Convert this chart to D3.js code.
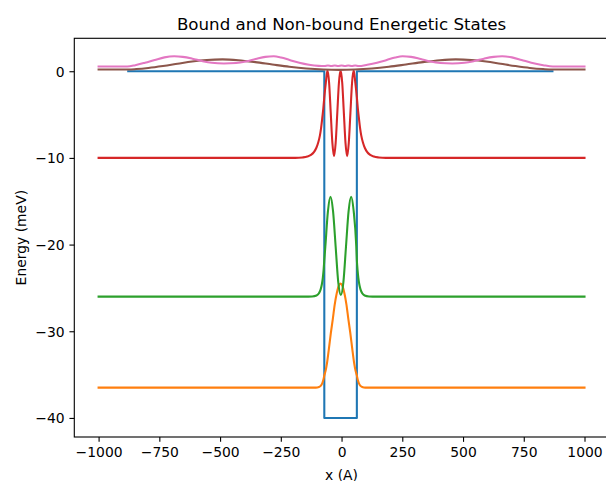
<!DOCTYPE html>
<html><head><meta charset="utf-8">
<script src="https://cdn.jsdelivr.net/npm/d3@7"></script>
<style>
body{margin:0;background:#fff}
svg{display:block}
text{font-family:"DejaVu Sans",sans-serif;fill:#000}
</style>
</head><body>
<svg id="c" width="606" height="481"></svg>
<script>
// ---- text ----
const chartTitle = "Bound and Non-bound Energetic States";
const xLabel = "x (A)";
const yLabel = "Energy (meV)";
const xTicks = [-1000, -750, -500, -250, 0, 250, 500, 750, 1000];
const yTicks = [0, -10, -20, -30, -40];

// ---- data (x in A, energy in meV) ----
const potentialX = [-878, -71, -71, 63, 63, 868];
const potentialE = [0, 0, -40, -40, 0, 0];

const orangeX = [-1000,-106,-93,-86,-81,-77,-74,-71,-66,-60,-52,-44,-36,-28,-20,-12,-4,4,12,20,28,36,44,52,58,63,66,69,73,78,85,98,1000];
const orangeE = [-36.5,-36.5,-36.43,-36.3,-36.1,-35.8,-35.5,-35.1,-34.6,-33.7,-32.0,-30.2,-28.6,-26.9,-25.65,-24.8,-24.5,-24.8,-25.65,-26.9,-28.6,-30.2,-32.0,-33.7,-34.6,-35.1,-35.5,-35.8,-36.1,-36.3,-36.43,-36.5,-36.5];

const greenX = [-1000,-151,-121,-103,-93,-86,-81,-77,-74,-71,-66.75,-56.1,-45.5,-34.9,-24.25,-13.6,-3,7.6,18.25,28.9,39.5,50.1,60.75,63,66,69,73,78,85,95,113,143,1000];
const greenE = [-26,-26,-25.98,-25.87,-25.61,-25.17,-24.58,-23.8,-22.97,-21.8,-20.25,-16.18,-14.5,-16.18,-20.25,-24.32,-25.8,-24.32,-20.25,-16.18,-14.5,-16.18,-20.25,-21.8,-22.97,-23.8,-24.58,-25.17,-25.61,-25.87,-25.98,-26,-26];

const redX = [-1000,-191,-161,-141,-126,-113,-104,-96,-89,-84,-79,-75,-71,-64.75,-58,-51.25,-44.5,-37.75,-31,-24.25,-17.5,-10.75,-4,2.75,9.5,16.25,23,29.75,36.5,43.25,50,56.75,63,67,71,76,81,88,96,105,118,133,153,183,1000];
const redE = [-10,-10,-9.95,-9.85,-9.66,-9.31,-8.86,-8.23,-7.4,-6.5,-5.3,-4.27,-3.0,-1.33,0.1,-1.33,-4.8,-8.27,-9.8,-8.27,-4.8,-1.33,0.1,-1.33,-4.8,-8.27,-9.8,-8.27,-4.8,-1.33,0.1,-1.33,-3.0,-4.27,-5.3,-6.5,-7.4,-8.23,-8.86,-9.31,-9.66,-9.85,-9.95,-10,-10];

const brownX = [-1000,-878,-845,-795,-735,-675,-615,-555,-490,-425,-355,-285,-215,-145,-75,-10,55,125,195,265,335,405,470,535,595,655,715,775,830,868,1000];
const brownE = [0.2,0.2,0.25,0.38,0.6,0.86,1.12,1.3,1.37,1.27,1.05,0.78,0.52,0.32,0.2,0.16,0.2,0.32,0.52,0.78,1.05,1.27,1.37,1.3,1.12,0.86,0.6,0.38,0.25,0.2,0.2];

const pinkX = [-1000,-882,-849,-809,-769,-729,-689,-654,-614,-574,-534,-484,-434,-394,-354,-314,-279,-249,-214,-174,-134,-94,-70,-56,-42,-28,-14,0,14,28,42,56,70,106,146,186,221,251,286,326,366,406,456,506,546,586,626,661,701,741,781,830,870,1000];
const pinkE = [0.55,0.55,0.7,0.98,1.3,1.6,1.72,1.66,1.45,1.17,0.97,0.9,0.95,1.12,1.4,1.66,1.72,1.58,1.3,0.98,0.75,0.62,0.6,0.67,0.6,0.67,0.6,0.67,0.6,0.67,0.6,0.67,0.6,0.75,0.98,1.3,1.58,1.72,1.66,1.4,1.12,0.95,0.9,0.97,1.17,1.45,1.66,1.72,1.6,1.3,0.98,0.7,0.55,0.55];

// ---- layout ----
const mLeft = 74.3, mRight = 608.8, mTop = 38.3, mBottom = 437;
const fs = 13.9;
const lineW = 2.08, spineW = 1.11;

const svg = d3.select("#c");
const x = d3.scaleLinear().domain([-1100, 1100]).range([mLeft, mRight]);
const y = d3.scaleLinear().domain([-42.2, 3.8]).range([mBottom, mTop]);

svg.append("defs").append("clipPath").attr("id", "clip")
  .append("rect").attr("x", mLeft).attr("y", mTop).attr("width", mRight - mLeft).attr("height", mBottom - mTop);

const plot = svg.append("g").attr("clip-path", "url(#clip)");

function zip(xs, es) { return xs.map((v, i) => [v, es[i]]); }

const series = [
  {xs: potentialX, es: potentialE, color: "#1f77b4", curve: d3.curveLinear},
  {xs: orangeX, es: orangeE, color: "#ff7f0e", curve: d3.curveMonotoneX},
  {xs: greenX, es: greenE, color: "#2ca02c", curve: d3.curveMonotoneX},
  {xs: redX, es: redE, color: "#d62728", curve: d3.curveMonotoneX},
  {xs: brownX, es: brownE, color: "#8c564b", curve: d3.curveMonotoneX},
  {xs: pinkX, es: pinkE, color: "#e377c2", curve: d3.curveMonotoneX}
];

series.forEach(s => {
  const line = d3.line().x(d => x(d[0])).y(d => y(d[1])).curve(s.curve);
  plot.append("path")
    .attr("d", line(zip(s.xs, s.es)))
    .attr("fill", "none")
    .attr("stroke", s.color)
    .attr("stroke-width", lineW)
    .attr("stroke-linejoin", "round")
    .attr("stroke-linecap", "square");
});

// ---- axes ----
const tickLen = 4.86, tickPad = 4.86;
const fmt = d3.format("d");

const gx = svg.append("g").attr("transform", `translate(0,${mBottom})`)
  .call(d3.axisBottom(x).tickValues(xTicks).tickFormat(fmt).tickSize(tickLen).tickPadding(tickPad).tickSizeOuter(0));
const gy = svg.append("g").attr("transform", `translate(${mLeft},0)`)
  .call(d3.axisLeft(y).tickValues(yTicks).tickFormat(fmt).tickSize(tickLen).tickPadding(tickPad).tickSizeOuter(0));

[gx, gy].forEach(g => {
  g.select(".domain").remove();
  g.selectAll(".tick line").attr("stroke", "#000").attr("stroke-width", spineW);
  g.selectAll(".tick text").attr("font-family", "DejaVu Sans").attr("font-size", fs).attr("fill", "#000");
});
gy.selectAll(".tick text").attr("dy", "0.36em");

// spines
svg.append("rect")
  .attr("x", mLeft).attr("y", mTop)
  .attr("width", mRight - mLeft).attr("height", mBottom - mTop)
  .attr("fill", "none").attr("stroke", "#000").attr("stroke-width", spineW);

// title & labels
svg.append("text").attr("x", (mLeft + mRight) / 2).attr("y", 29.5)
  .attr("text-anchor", "middle").attr("font-size", 16.67).text(chartTitle);
svg.append("text").attr("x", (mLeft + mRight) / 2).attr("y", 479.5)
  .attr("text-anchor", "middle").attr("font-size", fs).text(xLabel);
svg.append("text").attr("transform", `translate(25.5,${(mTop + mBottom) / 2}) rotate(-90)`)
  .attr("text-anchor", "middle").attr("font-size", fs).text(yLabel);
</script>
</body></html>
